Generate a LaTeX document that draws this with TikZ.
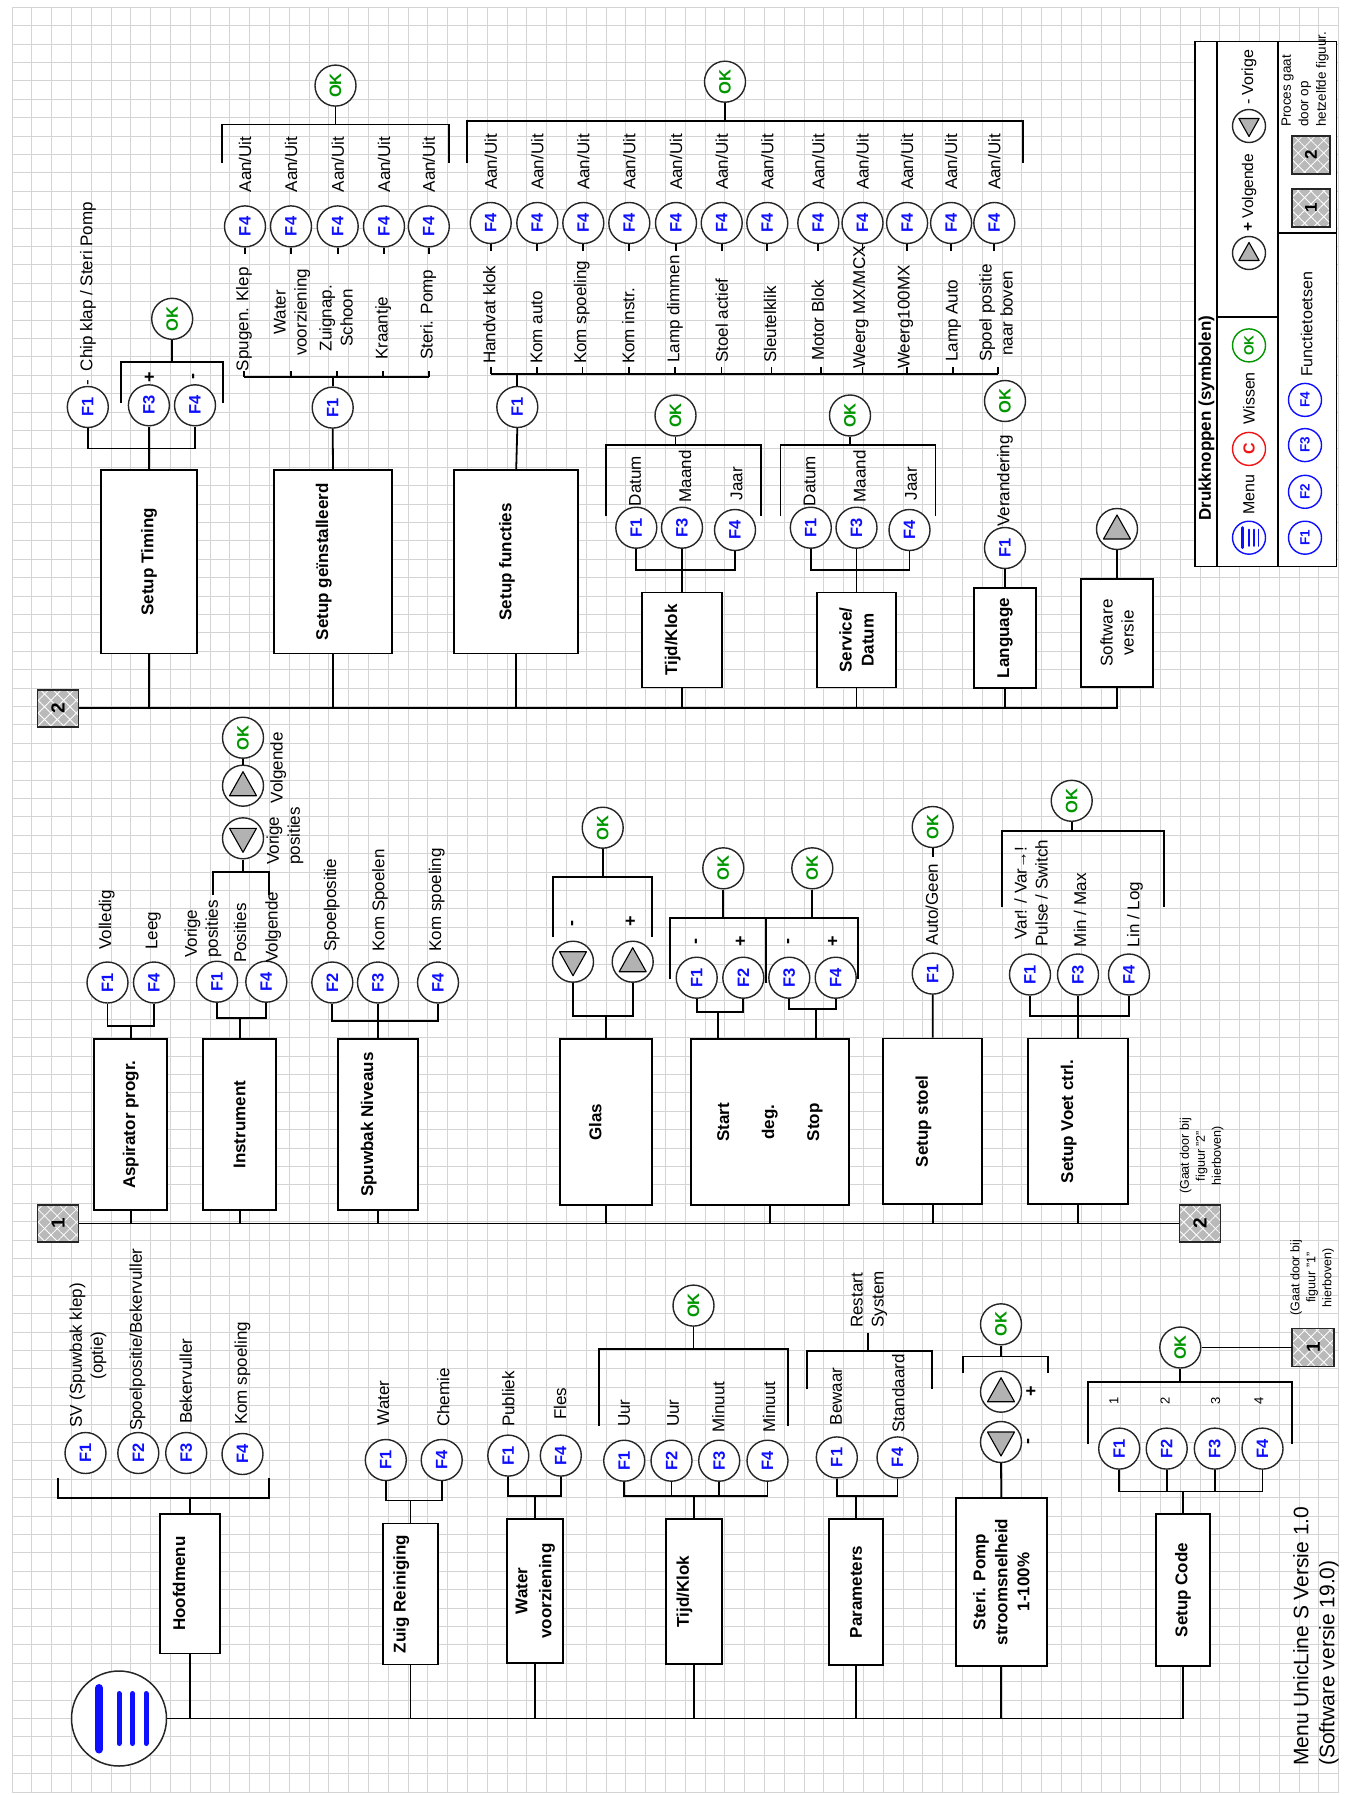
\documentclass[tikz,border=0pt]{standalone}
\usepackage{fontspec}
\setmainfont{Liberation Sans}
\usetikzlibrary{patterns.meta}
\definecolor{fblue}{RGB}{15,15,255}
\definecolor{okg}{RGB}{0,150,0}
\definecolor{cred}{RGB}{240,20,20}
\definecolor{gridc}{RGB}{212,212,212}
\definecolor{trig}{RGB}{178,178,178}
\definecolor{hatchg}{RGB}{185,185,185}
\newcounter{lc}
\newcommand\mylab[4][]{\stepcounter{lc}\node[lbl,anchor=west,#1] (lab\thelc) at (#2,#3) {#4};}
\newcommand\mycl[4][]{\stepcounter{lc}\node[lbl,#1] (lab\thelc) at (#2,#3) {#4};}
\newcommand\mybrk[4]{\draw[ln] (#1,#4) -- (#1,#3) -- (#2,#3) -- (#2,#4);}
\newcommand\mytup[2]{\filldraw[tri] ([shift={(0,-14*#2)}]#1.center) -- ([shift={(13.5*#2,10*#2)}]#1.center) -- ([shift={(-13.5*#2,10*#2)}]#1.center) -- cycle;}
\newcommand\mytdn[2]{\filldraw[tri] ([shift={(0,14*#2)}]#1.center) -- ([shift={(13.5*#2,-10*#2)}]#1.center) -- ([shift={(-13.5*#2,-10*#2)}]#1.center) -- cycle;}
\tikzset{
  ln/.style={line width=1.8pt},
  btn/.style={circle, draw=black!85, line width=1.4pt, fill=white, minimum size=41pt, inner sep=0pt, rotate=90, font=\fontsize{16.5}{16.5}\selectfont\bfseries},
  fb/.style={btn, text=fblue},
  okb/.style={btn, text=okg},
  sb/.style={btn, minimum size=33pt, font=\fontsize{13.5}{13.5}\selectfont\bfseries},
  lbl/.style={rotate=90, inner sep=0pt, font=\fontsize{17}{21}\selectfont},
  bl/.style={font=\fontsize{18}{18}\selectfont\bfseries},
  note/.style={align=center, font=\fontsize{12.5}{16}\selectfont},
  mbox/.style={rectangle, draw, line width=1.8pt, fill=white, rotate=90, inner sep=2pt, align=center, font=\fontsize{17}{22}\selectfont\bfseries},
  hsq/.style={rectangle, fill=hatchg, minimum width=37pt, minimum height=41pt, inner sep=0pt, rotate=90, font=\fontsize{19}{19}\selectfont\bfseries,
    postaction={pattern={Lines[angle=45,distance=9pt,line width=0.8pt]}, pattern color=white},
    postaction={pattern={Lines[angle=-45,distance=9pt,line width=0.8pt]}, pattern color=white},
    postaction={draw=black!85, line width=1.5pt}},
  tri/.style={fill=trig, draw=black, line width=1.1pt, line join=round},
}
\begin{document}
\begin{tikzpicture}[x=1pt,y=-1pt]
\fill[white] (0,0) rectangle (1345,1795);
\useasboundingbox (0,0) rectangle (1345,1795);
% grid
\foreach \i in {0,...,67} \draw[gridc, line width=0.9pt] ({12+19.8*\i},7.3) -- ({12+19.8*\i},1792.1);
\foreach \j in {0,...,97} \draw[gridc, line width=0.9pt] (12,{7.3+18.4*\j}) -- (1338.6,{7.3+18.4*\j});

%%%%%%%%%%%%%%%% BOTTOM SECTION %%%%%%%%%%%%%%%%
\node[circle, draw=black!85, line width=1.5pt, fill=white, minimum size=95pt, inner sep=0pt] (menu) at (119,1718.5) {};
\draw[fblue, line width=8pt, line cap=round] (99,1688) -- (99,1749.5);
\foreach \x in {119,132.5,146} \draw[fblue, line width=5pt, line cap=round] (\x,1693.5) -- (\x,1743.5);

\node[mbox, minimum width=139.5pt, minimum height=60pt] (hm) at (190,1583.75) {Hoofdmenu\\\mbox{}};
\node[mbox, minimum width=141pt, minimum height=54.4pt] (zr) at (410.5,1594) {Zuig Reiniging\\\mbox{}};
\node[mbox, minimum width=144pt, minimum height=56pt, font=\fontsize{17}{24}\selectfont\bfseries] (wv) at (535.3,1591) {Water\\voorziening};
\node[mbox, minimum width=145pt, minimum height=56pt] (tk) at (693.7,1591.5) {Tijd/Klok\\\mbox{}};
\node[mbox, minimum width=146.5pt, minimum height=54.3pt] (pa) at (856.2,1592) {Parameters};
\node[mbox, minimum width=168pt, minimum height=90.7pt] (st) at (1001.3,1582) {Steri. Pomp\\stroomsnelheid\\1-100\%};
\node[mbox, minimum width=151.5pt, minimum height=54.3pt] (sc) at (1182.9,1590) {Setup Code};
\draw[ln] (menu.east) -| (sc.west);
\foreach \b in {hm,zr,wv,tk,pa,st} \draw[ln] (\b.west) -- (\b.west |- menu.east);

% Hoofdmenu
\node[fb] (hmF1) at (85.5,1453) {F1};
\node[fb] (hmF2) at (138.3,1453) {F2};
\node[fb] (hmF3) at (186.2,1453) {F3};
\node[fb] (hmF4) at (242.5,1454) {F4};
\mybrk{58.3}{269.3}{1497.6}{1478}
\coordinate (hmj) at (190,1497.6);
\draw[ln] (hm.east) -- (hmj);
\mylab[align=center]{88}{1428}{SV (Spuwbak klep)\\(optie)}
\mylab{137.5}{1431}{Spoelpositie/Bekervuller}
\mylab{185.8}{1424}{Bekervuller}
\mylab{242.5}{1425}{Kom spoeling}

% Zuig Reiniging
\node[fb] (zrF1) at (385.8,1460) {F1};
\node[fb] (zrF4) at (441.7,1460) {F4};
\coordinate (zrj) at (410.5,1500.5);
\draw[ln] (zrF1.west) |- (zrj) -| (zrF4.west);
\draw[ln] (zrj) -- (zr.east);
\mylab{383.3}{1425.4}{Water}
\mylab{443.3}{1427}{Chemie}

% Water voorziening
\node[fb] (wvF1) at (508.3,1455.6) {F1};
\node[fb] (wvF4) at (560.8,1455.6) {F4};
\coordinate (wvj) at (535.3,1495.8);
\draw[ln] (wvF1.west) |- (wvj) -| (wvF4.west);
\draw[ln] (wvj) -- (wv.east);
\mylab{508.3}{1427}{Publiek}
\mylab{560}{1420}{Fles}

% Tijd/Klok bottom
\node[fb] (tkF1) at (624.2,1460.7) {F1};
\node[fb] (tkF2) at (671.5,1460.7) {F2};
\node[fb] (tkF3) at (719.2,1460.7) {F3};
\node[fb] (tkF4) at (767.5,1460.7) {F4};
\coordinate (tkj) at (693.7,1495.8);
\draw[ln] (tkF1.west) |- (tkj) -| (tkF4.west);
\draw[ln] (tkF2.west) -- (tkF2.west |- tkj);
\draw[ln] (tkF3.west) -- (tkF3.west |- tkj);
\draw[ln] (tkj) -- (tk.east);
\mylab{624}{1427}{Uur}
\mylab{673}{1427}{Uur}
\mylab{718.3}{1432.7}{Minuut}
\mylab{769}{1432.7}{Minuut}
\mybrk{599.3}{787.7}{1349.1}{1426}
\node[okb] (tkOK) at (693.5,1305.6) {OK};
\draw[ln] (tkOK.west) -- (tkOK.west |- 0,1349.1);

% Parameters
\node[fb] (paF1) at (836.8,1457.4) {F1};
\node[fb] (paF4) at (897.5,1457.4) {F4};
\coordinate (paj) at (856.2,1495.8);
\draw[ln] (paF1.west) |- (paj) -| (paF4.west);
\draw[ln] (paj) -- (pa.east);
\mylab{836}{1425.4}{Bewaar}
\mylab{898.3}{1432.7}{Standaard}
\mybrk{807.3}{931.7}{1350.9}{1389}
\coordinate (pars) at (868.3,1333);
\draw[ln] (pars) -- (868.3,1350.9);
\mylab[align=left]{869}{1328}{Restart\\System}

% Steri Pomp
\node[btn] (stDn) at (1001,1442) {}; \mytdn{stDn}{1}
\node[btn] (stUp) at (1001,1391.7) {}; \mytup{stUp}{1}
\draw[ln] (st.east) -- (stDn.west);
\mybrk{962.7}{1048.3}{1356.4}{1372.7}
\node[okb] (stOK) at (1001,1324.3) {OK};
\draw[ln] (stOK.west) -- (stOK.west |- 0,1356.4);
\mycl[bl]{1031.7}{1391.7}{+}
\mycl[bl]{1030}{1441}{-}

% Setup Code
\node[fb] (scF1) at (1119.2,1448.6) {F1};
\node[fb] (scF2) at (1166.7,1448.6) {F2};
\node[fb] (scF3) at (1214.8,1448.6) {F3};
\node[fb] (scF4) at (1262.5,1448.6) {F4};
\coordinate (scj) at (1182.9,1491.5);
\draw[ln] (scF1.west) |- (scj) -| (scF4.west);
\draw[ln] (scF2.west) -- (scF2.west |- scj);
\draw[ln] (scF3.west) -- (scF3.west |- scj);
\draw[ln] (scj) -- (sc.east);
\mycl[font=\fontsize{13}{13}\selectfont]{1114}{1401}{1}
\mycl[font=\fontsize{13}{13}\selectfont]{1165}{1401}{2}
\mycl[font=\fontsize{13}{13}\selectfont]{1215.7}{1401}{3}
\mycl[font=\fontsize{13}{13}\selectfont]{1259}{1401}{4}
\mybrk{1088.3}{1292.3}{1382.2}{1443.5}
\node[okb] (scOK) at (1180.3,1347.5) {OK};
\draw[ln] (scOK.west) -- (scOK.west |- 0,1382.2);
\node[hsq, minimum width=38pt, minimum height=42pt] (sq1b) at (1313.2,1347.5) {1};
\draw[ln] (scOK.south) -- (sq1b.north);
\mycl[note]{1312}{1277.7}{(Gaat door bij\\figuur "1"\\hierboven)}
\mylab[align=left, font=\fontsize{21}{26}\selectfont]{1316}{1766}{Menu UnicLine S Versie 1.0\\(Software versie 19.0)}

%%%%%%%%%%%%%%%% MIDDLE SECTION %%%%%%%%%%%%%%%%
\node[hsq] (sq1m) at (58,1223.5) {1};
\node[hsq] (sq2m) at (1200,1223.5) {2};
\node[mbox, minimum width=170.7pt, minimum height=73pt] (ap) at (130.8,1124.7) {Aspirator progr.};
\node[mbox, minimum width=170.7pt, minimum height=72.7pt] (in) at (239.7,1124.7) {Instrument};
\node[mbox, minimum width=170.7pt, minimum height=79.4pt] (sn) at (378,1124.7) {Spuwbak Niveaus\\\mbox{}};
\node[mbox, minimum width=165.7pt, minimum height=92.3pt] (gl) at (606.2,1122.2) {Glas\\\mbox{}};
\node[mbox, minimum width=165.7pt, minimum height=158.3pt, font=\fontsize{17}{45}\selectfont\bfseries] (ss) at (769.9,1122.2) {Start\\deg.\\Stop};
\node[mbox, minimum width=165.5pt, minimum height=99pt] (sst) at (932.8,1121.3) {Setup stoel\\\mbox{}};
\node[mbox, minimum width=165.5pt, minimum height=99.4pt] (svc) at (1078,1121.3) {Setup Voet ctrl.\\\mbox{}};
\draw[ln] (sq1m.south) -- (sq2m.north);
\foreach \b in {ap,in,sn,gl,ss,sst,svc} \draw[ln] (\b.west) -- (\b.west |- sq1m.south);
\mycl[note]{1201.7}{1156}{(Gaat door bij\\figuur "2"\\hierboven)}

% Aspirator
\node[fb] (apF1) at (107.5,982.5) {F1};
\node[fb] (apF4) at (154,982.5) {F4};
\coordinate (apj) at (130.8,1026);
\draw[ln] (apF1.west) |- (apj) -| (apF4.west);
\draw[ln] (apj) -- (ap.east);
\mylab{106.7}{950}{Volledig}
\mylab{153.3}{950}{Leeg}

% Instrument
\node[fb] (inF1) at (217,981.7) {F1};
\node[fb] (inF4) at (266.3,981.7) {F4};
\coordinate (inj) at (239.7,1018.3);
\draw[ln] (inF1.west) |- (inj) -| (inF4.west);
\draw[ln] (inj) -- (in.east);
\mylab[align=left]{203}{958}{Vorige\\posities}
\mylab{240}{963}{Posities}
\mylab{273.3}{963}{Volgende}
\node[btn] (inDn) at (243,838.3) {}; \mytdn{inDn}{1}
\node[btn] (inUp) at (243,785.7) {}; \mytup{inUp}{1}
\node[okb] (inOK) at (243,737.7) {OK};
\draw[ln] (inOK.west) -- (inUp.east);
\mybrk{213.3}{269.3}{871.7}{895}
\draw[ln] (inDn.west) -- (inDn.west |- 0,871.7);
\mylab[align=left]{285}{865}{Vorige\\posities}
\mylab{278.3}{803.3}{Volgende}

% Spuwbak
\node[fb] (snF2) at (332.3,982.5) {F2};
\node[fb] (snF3) at (378,982.5) {F3};
\node[fb] (snF4) at (438,982.5) {F4};
\coordinate (snj) at (378,1020.7);
\draw[ln] (snF2.west) |- (snj) -| (snF4.west);
\draw[ln] (snF3.west) -- (sn.east);
\mylab{331.7}{951.7}{Spoelpositie}
\mylab{380}{951.7}{Kom Spoelen}
\mylab{436.7}{951.7}{Kom spoeling}

% Glas
\node[btn] (glDn) at (573,961.7) {}; \mytdn{glDn}{1}
\node[btn] (glUp) at (632.7,961.7) {}; \mytup{glUp}{1}
\coordinate (glj) at (606.2,1015.7);
\draw[ln] (glDn.west) |- (glj) -| (glUp.west);
\draw[ln] (glj) -- (gl.east);
\node[okb] (glOK) at (602.7,827.7) {OK};
\mybrk{553.3}{652.3}{876.7}{937.3}
\draw[ln] (glOK.west) -- (glOK.west |- 0,876.7);
\mycl[bl]{574}{923.3}{-}
\mycl[bl]{631}{921}{+}

% Start deg Stop
\node[fb] (ssF1) at (696.7,977.7) {F1};
\node[fb] (ssF2) at (743.3,977.7) {F2};
\node[fb] (ssF3) at (789.3,977.7) {F3};
\node[fb] (ssF4) at (835.7,977.7) {F4};
\coordinate (ssj1) at (718.3,1012.3);
\coordinate (ssj2) at (815.7,1009.3);
\draw[ln] (ssF1.west) |- (ssj1) -| (ssF2.west);
\draw[ln] (ssj1) -- (ssj1 |- ss.east);
\draw[ln] (ssF3.west) |- (ssj2) -| (ssF4.west);
\draw[ln] (ssj2) -- (ssj2 |- ss.east);
\mybrk{670}{858.3}{918.3}{979.3}
\draw[ln] (766,918.3) -- (766,983.3);
\node[okb] (ssOK1) at (723.3,868.3) {OK};
\node[okb] (ssOK2) at (812.3,868.3) {OK};
\draw[ln] (ssOK1.west) -- (ssOK1.west |- 0,918.3);
\draw[ln] (ssOK2.west) -- (ssOK2.west |- 0,918.3);
\mycl[bl]{697.7}{941.7}{-}
\mycl[bl]{741}{941.7}{+}
\mycl[bl]{790}{941.7}{-}
\mycl[bl]{833.3}{941.7}{+}

% Setup stoel
\node[fb] (sstF1) at (932.7,973.6) {F1};
\draw[ln] (sst.east) -- (sstF1.west);
\mylab{931.7}{945.5}{Auto/Geen}
\node[okb] (sstOK) at (932.7,827) {OK};
\draw[ln] (sstOK.west) -- ++(0,9);

% Setup Voet ctrl
\node[fb] (svcF1) at (1030,974.5) {F1};
\node[fb] (svcF3) at (1078,974.5) {F3};
\node[fb] (svcF4) at (1129,974.5) {F4};
\coordinate (svcj) at (1078,1015.7);
\draw[ln] (svcF1.west) |- (svcj) -| (svcF4.west);
\draw[ln] (svcF3.west) -- (svc.east);
\mycl[align=center]{1031}{893}{Var! / Var→!\\Pulse / Switch}
\mylab{1080}{947.3}{Min / Max}
\mylab{1135}{947.3}{Lin / Log}
\mybrk{1001.7}{1164.3}{830.8}{907}
\node[okb] (svcOK) at (1071.7,800.8) {OK};
\draw[ln] (svcOK.west) -- (svcOK.west |- 0,830.8);

%%%%%%%%%%%%%%%% TOP SECTION %%%%%%%%%%%%%%%%
\node[hsq] (sq2t) at (58,708.3) {2};
\node[mbox, minimum width=183.4pt, minimum height=95.7pt] (stt) at (148.9,561.8) {Setup Timing};
\node[mbox, minimum width=183.4pt, minimum height=117.4pt] (sgi) at (333,561.8) {Setup geïnstalleerd\\\mbox{}};
\node[mbox, minimum width=183.4pt, minimum height=124.3pt] (sfu) at (516.2,561.8) {Setup functies\\\mbox{}};
\node[mbox, minimum width=95pt, minimum height=79.4pt] (tk2) at (682,640) {Tijd/Klok\\\mbox{}};
\node[mbox, minimum width=95pt, minimum height=79.4pt] (sd) at (856.5,640) {Service/\\Datum};
\node[mbox, minimum width=100pt, minimum height=62pt] (la) at (1005,638) {Language};
\node[mbox, minimum width=108pt, minimum height=72pt, font=\fontsize{17}{21}\selectfont] (sv) at (1117,633) {Software\\versie};
\draw[ln] (sq2t.south) -| (sv.west);
\foreach \b in {stt,sgi,sfu,tk2,sd,la} \draw[ln] (\b.west) -- (\b.west |- sq2t.south);

% Setup Timing
\node[fb] (sttF1) at (87.8,407) {F1};
\node[fb] (sttF3) at (148.9,405.3) {F3};
\node[fb] (sttF4) at (195,405.3) {F4};
\coordinate (sttj) at (148.9,448.4);
\draw[ln] (sttF1.west) |- (sttj) -| (sttF4.west);
\draw[ln] (sttF3.west) -- (stt.east);
\mylab{88}{386}{-\hspace{9pt}Chip klap / Steri Pomp}
\mycl[bl]{150}{376.8}{+}
\mycl[bl]{195}{376.8}{-}
\mybrk{120.7}{223.3}{362.3}{403}
\node[okb] (sttOK) at (172.2,318.8) {OK};
\draw[ln] (sttOK.west) -- (sttOK.west |- 0,362.3);

% Setup geinstalleerd
\node[fb] (sgiF1) at (332.7,407.6) {F1};
\draw[ln] (sgi.east) -- (sgiF1.west);
\coordinate (sgij) at (332.7,376.8);
\draw[ln] (sgiF1.east) -- (sgij);
\draw[ln] (244,376.8) -- (429.3,376.8);
\foreach \x in {244,290.7,336.7,383.3,429.3} \draw[ln] (\x,376.8) -- (\x,370.5);
\mycl{244}{319.3}{Spugen. Klep}
\mycl[align=center]{292}{312.5}{Water\\voorziening}
\mycl[align=center]{336}{318}{Zuignap.\\Schoon}
\mycl{383.3}{328.3}{Kraantje}
\mycl{428.3}{314.8}{Steri. Pomp}
\foreach \x/\n in {245/1,291/2,337.7/3,384/4,428.8/5}{
  \node[fb] (sgiA\n) at (\x,226.4) {F4};
  \draw[ln] (sgiA\n.west) -- ++(0,6);
  \mylab{\x}{192.5}{Aan/Uit}
}
\mybrk{221.7}{449.3}{124.5}{163}
\node[okb] (sgiOK) at (335.5,85.6) {OK};
\draw[ln] (sgiOK.west) -- (sgiOK.west |- 0,124.5);

% Setup functies
\node[fb] (sfuF1) at (517.3,407) {F1};
\draw[ln] (sfu.east) -- (sfuF1.west);
\coordinate (sfuj) at (517.3,374);
\draw[ln] (sfuF1.east) -- (sfuj);
\draw[ln] (490.7,374) -- (998.2,374);
\foreach \x in {490.7,537,582.5,628.6,675,721.4,771.4,820.7,862.5,907.1,952.9,998.2} \draw[ln] (\x,374) -- (\x,367);
\foreach \x/\n in {490.7/1,537.3/2,583.3/3,629.3/4,676/5,721.7/6,767.3/7,818.3/8,862.5/9,907.1/10,951.1/11,994.3/12}{
  \node[fb] (sfuA\n) at (\x,223) {F4};
  \draw[ln] (sfuA\n.west) -- ++(0,7);
  \mylab{\x}{190}{Aan/Uit}
}
\mylab{489.3}{364}{Handvat klok}
\mylab{536.7}{364}{Kom auto}
\mylab{581.7}{364}{Kom spoeling}
\mylab{628.3}{364}{Kom instr.}
\mylab{675}{363}{Lamp dimmen}
\mylab{721.7}{363}{Stoel actief}
\mylab{770}{363}{Sleutelklik}
\mylab{817.7}{361}{Motor Blok}
\mylab{860.7}{369}{Weerg MX/MCX}
\mylab{905.4}{369}{Weerg100MX}
\mylab{953.6}{362}{Lamp Auto}
\mylab[align=center]{996}{362}{Spoel positie\\naar boven}
\mybrk{467.3}{1023.2}{121}{163}
\node[okb] (sfuOK) at (725,81.7) {OK};
\draw[ln] (sfuOK.west) -- (sfuOK.west |- 0,121);

% Tijd/Klok top
\node[fb] (tk2F1) at (636.3,527.7) {F1};
\node[fb] (tk2F3) at (682,527.7) {F3};
\node[fb] (tk2F4) at (735,530) {F4};
\coordinate (tk2j) at (682,569.7);
\draw[ln] (tk2F1.west) |- (tk2j) -| (tk2F4.west);
\draw[ln] (tk2F3.west) -- (tk2.east);
\mylab{635}{506.3}{Datum}
\mylab{685}{502.7}{Maand}
\mylab{736.7}{500.5}{Jaar}
\mybrk{606}{761}{444.7}{516.3}
\node[okb] (tk2OK) at (675.5,415.5) {OK};
\draw[ln] (tk2OK.west) -- (tk2OK.west |- 0,444.7);

% Service/Datum
\node[fb] (sdF1) at (810.8,527.7) {F1};
\node[fb] (sdF3) at (856.5,527.7) {F3};
\node[fb] (sdF4) at (909.5,530) {F4};
\coordinate (sdj) at (856.5,569.7);
\draw[ln] (sdF1.west) |- (sdj) -| (sdF4.west);
\draw[ln] (sdF3.west) -- (sd.east);
\mylab{809.5}{506.3}{Datum}
\mylab{859.5}{502.7}{Maand}
\mylab{911.2}{500.5}{Jaar}
\mybrk{780.5}{935.5}{444.7}{516.3}
\node[okb] (sdOK) at (850,415.5) {OK};
\draw[ln] (sdOK.west) -- (sdOK.west |- 0,444.7);

% Language
\node[fb] (laF1) at (1005,548) {F1};
\draw[ln] (la.east) -- (laF1.west);
\mylab{1005}{527}{Verandering}
\node[okb] (laOK) at (1005,401) {OK};

% Software versie
\node[btn] (svUp) at (1117,529) {}; \mytup{svUp}{1}
\draw[ln] (sv.east) -- (svUp.west);

%%%%%%%%%%%%%%%% LEGEND %%%%%%%%%%%%%%%%
\node[draw, line width=1.5pt, fill=white, minimum width=141.7pt, minimum height=525.1pt, inner sep=0pt] (leg) at (1265.85,303.85) {};
\draw[ln] (1216.7,41.3) -- (1216.7,566.4);
\draw[ln] (1278.3,41.3) -- (1278.3,566.4);
\draw[ln] (1216.7,316.9) -- (1278.3,316.9);
\draw[ln] (1278.3,233.4) -- (1336.7,233.4);
\mylab[font=\fontsize{17}{17}\selectfont\bfseries]{1206.5}{521}{Drukknoppen (symbolen)}
\node[sb, draw=fblue] (lgM) at (1249,537.7) {};
\draw[fblue, line width=3pt, line cap=round] (1242.1,527.7) -- (1242.1,547.7);
\foreach \x in {1249,1253.7,1258.4} \draw[fblue, line width=1.8pt, line cap=round] (\x,529.5) -- (\x,545.9);
\mylab[font=\fontsize{16}{16}\selectfont]{1249}{514.7}{Menu}
\node[sb, draw=cred, text=cred, font=\fontsize{16}{16}\selectfont\bfseries] (lgC) at (1249,448.9) {C};
\mylab[font=\fontsize{16}{16}\selectfont]{1249}{424.8}{Wissen}
\node[sb, draw=okg, text=okg] (lgOK) at (1249,345.4) {OK};
\node[sb] (lgUp) at (1249,253) {}; \mytup{lgUp}{0.75}
\mylab[font=\fontsize{15.5}{16}\selectfont]{1249}{232}{\textbf{+} Volgende}
\node[sb] (lgDn) at (1249,126) {}; \mytdn{lgDn}{0.75}
\mylab[font=\fontsize{16}{16}\selectfont]{1249}{105}{- Vorige}
\node[sb, draw=fblue, text=fblue] (lgF1) at (1305,537.7) {F1};
\node[sb, draw=fblue, text=fblue] (lgF2) at (1305,491.8) {F2};
\node[sb, draw=fblue, text=fblue] (lgF3) at (1305,445.1) {F3};
\node[sb, draw=fblue, text=fblue] (lgF4) at (1305,399.9) {F4};
\mylab[font=\fontsize{16}{16}\selectfont]{1306.7}{377}{Functietoetsen}
\node[hsq, minimum width=38pt, minimum height=38pt, font=\fontsize{17}{17}\selectfont\bfseries] (lgS1) at (1311,208) {1};
\node[hsq, minimum width=38pt, minimum height=38pt, font=\fontsize{17}{17}\selectfont\bfseries] (lgS2) at (1311,155) {2};
\mylab[align=left, font=\fontsize{13.5}{17.5}\selectfont]{1305}{127}{Proces gaat\\door op\\hetzelfde figuur.}
\end{tikzpicture}
\end{document}
